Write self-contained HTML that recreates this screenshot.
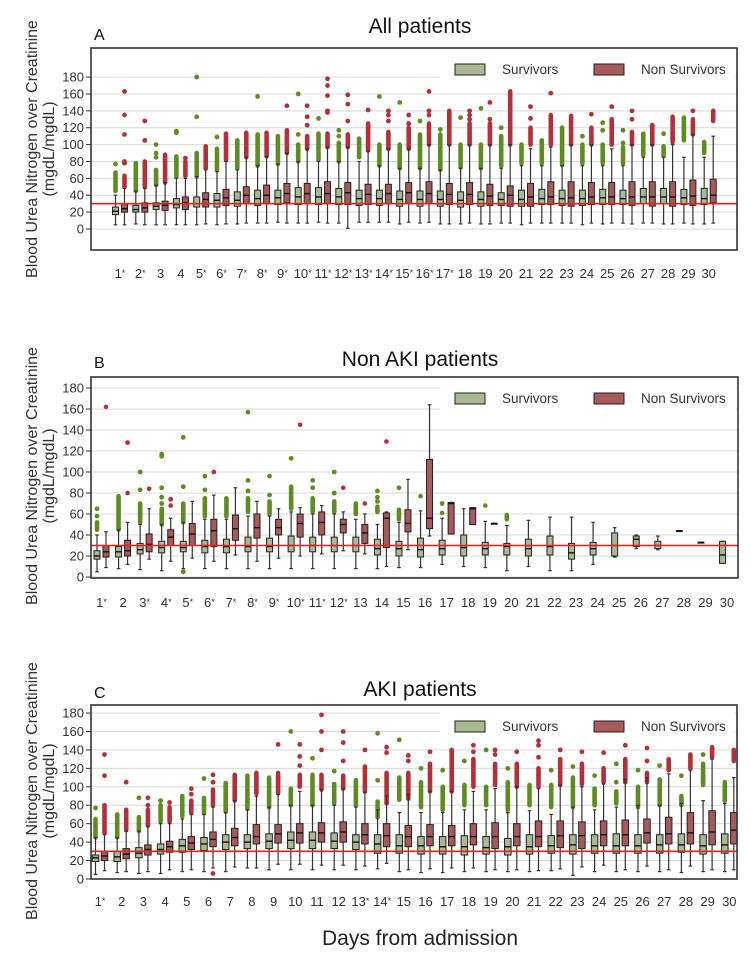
<!DOCTYPE html>
<html><head><meta charset="utf-8">
<style>
html,body{margin:0;padding:0;background:#fff;}
svg{display:block;font-family:"Liberation Sans",Arial,sans-serif;}
</style></head>
<body>
<svg id="chart" width="751" height="957" viewBox="0 0 751 957" xmlns="http://www.w3.org/2000/svg">
<text x="420" y="945" font-size="21" text-anchor="middle" fill="#222">Days from admission</text>
</svg>
<script>
// ---------- Panel A: All patients ----------
const A_days = ["1*","2*","3","4","5*","6*","7*","8*","9*","10*","11*","12*","13*","14*","15*","16*","17*","18","19","20","21","22","23","24","25","26","27","28","29","30"];
const A_surv = [[5,17,21,26,40],[6,20,23,28,45],[5,23,27,31,52],[5,25,29,36,60],[5,26,30,38,62],[5,26,34,42,68],[6,27,34,44,70],[7,28,36,46,75],[8,29,37,46,77],[7,29,38,49,80],[8,29,38,49,80],[7,29,38,48,80],[8,28,36,46,80],[8,28,36,46,75],[6,27,35,45,72],[7,27,35,45,72],[6,27,35,45,70],[6,26,34,44,72],[6,27,35,44,72],[7,28,35,43,72],[5,27,35,46,75],[7,29,36,47,75],[7,28,36,46,75],[5,28,36,46,75],[6,29,37,47,75],[7,29,36,46,75],[7,30,38,48,85],[6,30,38,48,85],[7,29,37,47,85],[6,29,36,48,85]];
const A_non = [[5,20,24,30,48],[5,20,25,31,48],[5,22,28,33,55],[5,23,31,38,60],[6,26,35,43,70],[6,28,37,47,80],[7,30,40,50,85],[7,30,40,52,86],[7,31,42,54,90],[7,30,42,54,95],[7,30,42,56,97],[1,29,43,55,97],[8,29,41,53,92],[8,30,42,53,95],[8,30,43,55,95],[8,30,42,56,100],[6,29,41,54,100],[7,29,41,55,100],[6,28,39,53,100],[7,27,40,51,100],[7,27,38,54,95],[7,29,38,56,97],[7,27,37,56,100],[7,29,38,55,100],[7,29,38,55,95],[6,28,38,56,100],[7,27,38,56,100],[6,27,38,56,100],[6,28,39,58,112],[7,31,40,59,110]];
const A_survOut = [[45,67,77],[45,78],[52,70,85,90,100],[62,86,114,116],[62,90,133,180],[70,95,109],[72,105],[75,112,157],[77,110],[80,100,112,160],[82,113,131],[80,102,110,117],[85,107],[75,100,157],[72,100,150],[72,112,128],[70,112,118],[73,100,132],[72,100,143],[75,110,120],[78,100],[78,105],[76,120],[78,100,110],[78,100,117,126],[78,97,102,117],[88,113],[87,98,113],[105,132,118],[90,103]];
const A_nonOut = [[50,63,80,78,112,135,163],[50,80,105,128],[55,88],[63,80,84],[72,98],[82,113],[85,114],[86,114],[90,117,146],[95,110,123,133,146],[97,113,138,140,158,170,178],[97,112,128,148,159],[93,125,141],[95,115,128,135,140],[95,120,125,135],[100,125,135,140,163],[100,140],[100,125,130,135,140],[100,125,130,150],[100,163],[100,120,131,145],[100,135,161],[100,134],[100,120,136],[100,130,145],[100,115,130,140],[100,123],[103,133,108],[112,130,140],[128,140]];

// ---------- Panel B: Non AKI patients ----------
const B_days = ["1*","2","3*","4*","5*","6*","7*","8*","9*","10*","11*","12*","13","14","15","16","17","18","19","20","21","22","23","24","25","26","27","28","29","30"];
const B_surv = [[5,17,20,25,40],[8,19,24,29,45],[7,22,26,32,50],[6,23,28,34,50],[8,24,28,34,52],[8,23,29,35,55],[8,23,29,36,55],[8,24,29,38,58],[8,24,29,37,58],[8,24,30,39,62],[8,24,30,38,60],[8,24,30,38,60],[8,24,30,38,55],[8,21,27,36,50],[9,20,27,34,52],[9,19,26,37,63],[12,21,27,35,56],[10,20,28,40,65],[9,21,27,33,53],[6,21,29,32,49],[10,20,27,36,54],[6,21,29,39,57],[6,17,23,32,57],[12,21,27,33,52],[19,20,30,42,47],[27,29,36,39,40],[26,27,30,34,39],[44,44,44,44,44],[33,33,33,33,33],[13,13,21,34,34]];
const B_non = [[9,19,24,30,43],[12,20,25,35,52],[17,24,31,41,65],[15,30,38,45,56],[18,30,41,51,72],[15,29,44,55,78],[21,35,46,59,85],[15,37,47,60,72],[18,40,47,55,65],[20,38,51,60,66],[22,40,52,62,68],[25,42,50,55,62],[22,32,42,50,60],[10,28,56,61,62],[26,43,51,64,93],[39,46,56,112,164],[41,41,70,71,71],[50,50,65,66,66],[51,51,51,51,51],null,null,null,null,null,null,null,null,null,null,null];
const B_survOut = [[45,52,58,65],[45,77],[52,70,83,100],[50,65,70,76,85,115,117],[52,70,86,133,5],[58,75,83,96],[58,75],[62,75,82,92,157],[60,72,78,96],[65,86,113],[62,75,85,92],[62,72,80,100],[60,70],[62,67,72,76,82],[55,64,85],[77,77],[61,61,70],[],[68,68],[55,59],[],[],[],[],[],[],[],[],[],[]];
const B_nonOut = [[162,162],[80,80,128],[84,84],[68,68,74],[],[100,100],[],[],[],[145,145],[],[85,85],[70,70],[129,129],[],[],[],[],[],[],[],[],[],[],[],[],[],[],[],[]];

// ---------- Panel C: AKI patients ----------
const C_days = ["1*","2","3","4","5","6","7","8","9","10","11","12","13*","14*","15","16","17","18","19","20","21","22","23","24","25","26","27","28","29","30"];
const C_surv = [[5,19,23,26,45],[7,19,24,30,45],[6,23,28,34,52],[6,27,32,38,60],[8,29,36,43,65],[8,31,38,45,70],[8,32,40,48,72],[12,33,40,48,75],[10,33,41,49,78],[10,33,42,51,80],[10,33,42,51,80],[10,33,41,50,80],[10,32,40,48,78],[11,28,38,48,75],[8,28,36,48,72],[7,27,36,46,72],[7,27,35,46,72],[8,26,35,47,75],[8,27,34,46,75],[8,26,35,44,72],[8,27,35,48,74],[9,28,36,47,70],[4,27,37,48,78],[8,28,36,48,75],[8,28,36,49,78],[8,28,36,48,80],[8,28,37,48,80],[7,29,37,49,82],[8,27,36,48,85],[8,28,37,49,82]];
const C_non = [[9,20,25,30,48],[8,22,27,33,52],[8,26,32,37,57],[10,29,35,41,60],[10,32,39,46,70],[12,35,43,51,78],[13,36,45,55,85],[12,38,46,59,90],[16,39,49,59,92],[16,39,50,60,95],[15,40,50,61,97],[15,40,51,62,98],[14,38,48,60,94],[17,35,47,60,90],[10,35,46,58,92],[11,36,46,59,95],[12,36,46,58,95],[12,37,46,60,95],[10,33,46,61,98],[10,36,46,60,100],[9,35,46,63,98],[11,34,47,63,102],[13,33,47,62,100],[15,36,48,63,103],[10,36,48,64,108],[14,39,50,65,110],[10,38,49,67,114],[14,38,50,72,118],[10,37,51,74,130],[10,38,53,72,110]];
const C_survOut = [[45,65,77],[45,70],[52,67,88],[62,80,85],[68,90],[72,88,109],[73,104],[76,112],[78,110],[80,98,160],[80,113,131],[82,103,117],[80,107],[67,84,107,158],[86,110,151],[78,105,120],[75,100,118],[80,102,128],[80,100,140],[75,105,120],[80,102],[78,102,118],[78,110,122],[80,98,112],[82,95,105,125],[78,100,118],[80,108,123],[80,90,112],[102,125,110,135],[85,105]];
const C_nonOut = [[50,80,112,135],[53,75,105],[58,75,80,88],[62,78,83],[72,85,92,98],[80,97,105,113,6],[85,113],[93,115],[93,115,146],[100,113,123,133,146],[97,113,140,160,178],[98,112,128,148,160],[95,122,140],[82,115,137,143],[87,115,128,134],[95,125,138],[95,140],[100,130,138,145],[102,125,135,140],[100,125,138],[100,120,132,145,150],[102,130,140],[103,125,138],[105,120,137],[105,130,145],[105,115,128,142],[118,130],[120,135],[132,143],[128,140]];

const panels = [
 {key:"a", title:"All patients", letter:"A", data:[A_days,A_surv,A_non,A_survOut,A_nonOut],
  fx:91, fy:48, fb:250, fr:737, y0:229, k:0.844, c1:120, step:20.3, bw:6, off:4.5, labY:278, titleY:33, letterY:40, legY:64, yTitle:149},
 {key:"b", title:"Non AKI patients", letter:"B", data:[B_days,B_surv,B_non,B_survOut,B_nonOut],
  fx:91, fy:377, fb:578, fr:738, y0:577, k:1.05, c1:101.5, step:21.57, bw:6, off:4.5, labY:607, titleY:366, letterY:368, legY:393, yTitle:476},
 {key:"c", title:"AKI patients", letter:"C", data:[C_days,C_surv,C_non,C_survOut,C_nonOut],
  fx:91, fy:705, fb:879, fr:737, y0:879, k:0.922, c1:100, step:21.7, bw:6.5, off:4.5, labY:906, titleY:696, letterY:698, legY:721, yTitle:791}
];
const ticks = [0,20,40,60,80,100,120,140,160,180];
const NS = "http://www.w3.org/2000/svg";
const svg = document.getElementById("chart");
function mk(tag, attrs, parent){const e=document.createElementNS(NS,tag);for(const k in attrs)e.setAttribute(k,attrs[k]);(parent||svg).appendChild(e);return e;}

panels.forEach(p=>{
  const [days,surv,non,survOut,nonOut]=p.data;
  const g=mk("g",{});
  
  
  const yS=v=>p.y0-v*p.k;
  const xS=i=>p.c1+i*p.step;
  // gridlines
  ticks.forEach(t=>{
    const l=mk("line",{x1:p.fx,x2:p.fr,y1:yS(t),y2:yS(t),stroke:"#d9d9d9","stroke-width":1},g);
    
    
    const tk=mk("line",{x1:p.fx-5,x2:p.fx,y1:yS(t),y2:yS(t),stroke:"#333","stroke-width":1},g);
    
    
    const tx=mk("text",{x:p.fx-7,y:yS(t)+4.5,"font-size":13,"text-anchor":"end",fill:"#333"},g);
    tx.textContent=t;
    
    
  });
  // legend
  const lg=mk("g",{},g);
  
  
  mk("rect",{x:440,y:p.legY-9,width:p.fr-442,height:28,fill:"#fff"},lg);
  const s1=mk("rect",{x:455,y:p.legY,width:30,height:11,fill:"#a9b993",stroke:"#222","stroke-width":1},lg);
  
  
  const t1=mk("text",{x:502,y:p.legY+10,"font-size":13.5,fill:"#333"},lg);t1.textContent="Survivors";
  
  
  const s2=mk("rect",{x:594,y:p.legY,width:30,height:11,fill:"#a75a5c",stroke:"#222","stroke-width":1},lg);
  
  
  const t2=mk("text",{x:641,y:p.legY+10,"font-size":13.5,fill:"#333"},lg);t2.textContent="Non Survivors";
  
  
  // boxes
  function drawBox(st,out,cx,fill,dot,name){
    const bg=mk("g",{},g);
    
    
    if(out && out.length>=2){
      const c=mk("line",{x1:cx,x2:cx,y1:yS(out[0]),y2:yS(out[1]),stroke:dot,"stroke-width":4.6,"stroke-linecap":"round"},bg);
      
      
      for(let j=2;j<out.length;j++){
        const d=mk("circle",{cx:cx,cy:yS(out[j]),r:2.4,fill:dot},bg);
        
        
      }
    }
    if(!st) return;
    const [lo,q1,md,q3,hi]=st;
    const w=mk("line",{x1:cx,x2:cx,y1:yS(lo),y2:yS(hi),stroke:"#333","stroke-width":1.2},bg);
    
    
    [lo,hi].forEach(v=>{mk("line",{x1:cx-1.8,x2:cx+1.8,y1:yS(v),y2:yS(v),stroke:"#333","stroke-width":1.2},bg);});
    const r=mk("rect",{x:cx-p.bw/2,y:yS(q3),width:p.bw,height:Math.max(yS(q1)-yS(q3),0.8),fill:fill,stroke:"#222","stroke-width":1},bg);
    
    
    const m=mk("line",{x1:cx-p.bw/2,x2:cx+p.bw/2,y1:yS(md),y2:yS(md),stroke:"#111","stroke-width":1.4},bg);
    
    
  }
  days.forEach((d,i)=>{
    const cx=xS(i);
    drawBox(surv[i],survOut[i],cx-p.off,"#a9b993","#5f8c22",'box-survivors-day-'+(i+1));
    drawBox(non[i],nonOut[i],cx+p.off,"#a75a5c","#b3303a",'box-non-survivors-day-'+(i+1));
    const lb=mk("text",{x:cx,y:p.labY,"font-size":13,"text-anchor":"middle",fill:"#333"},g);
    const star=d.endsWith("*");
    lb.textContent=star?d.slice(0,-1):d;
    if(star){const ts=mk("tspan",{"font-size":9,dy:-2},lb);ts.textContent="*";}
    
    
  });
  // reference line at 30
  const rl=mk("line",{x1:p.fx,x2:p.fr,y1:yS(30),y2:yS(30),stroke:"#e8201c","stroke-width":1.6},g);
  
  
  // frame
  const fr=mk("rect",{x:p.fx,y:p.fy,width:p.fr-p.fx,height:p.fb-p.fy,fill:"none",stroke:"#333","stroke-width":1.6},g);
  
  
  const ti=mk("text",{x:420,y:p.titleY,"font-size":21,"text-anchor":"middle",fill:"#111"},g);ti.textContent=p.title;
  
  
  const le=mk("text",{x:94,y:p.letterY,"font-size":16,fill:"#111"},g);le.textContent=p.letter;
  
  
  const yt=mk("text",{transform:"translate(37,"+p.yTitle+") rotate(-90)","font-size":16,"text-anchor":"middle",fill:"#333"},g);
  const y1=mk("tspan",{x:0,y:0},yt);y1.textContent="Blood Urea Nitrogen over Creatinine";
  const y2=mk("tspan",{x:0,y:17},yt);y2.textContent="(mgdL/mgdL)";
  
  
});
</script>
</body></html>
